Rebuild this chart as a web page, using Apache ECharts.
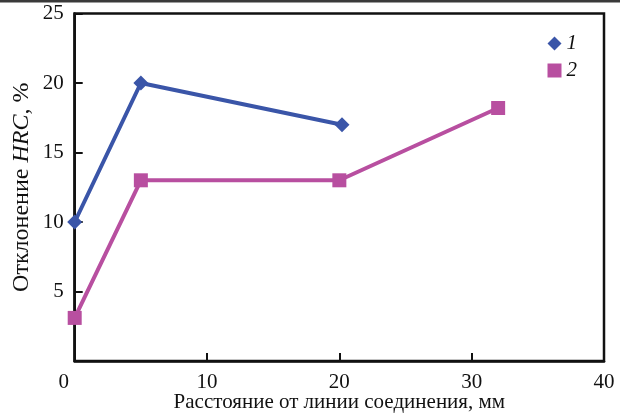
<!DOCTYPE html>
<html>
<head>
<meta charset="utf-8">
<script src="https://cdn.jsdelivr.net/npm/echarts@6/dist/echarts.min.js"></script>
<style>
  html, body { margin: 0; padding: 0; background: #fff; }
  #chart { width: 620px; height: 415px; }
</style>
</head>
<body>
<div id="chart"></div>
<script>
// Deviation of HRC hardness vs. distance from the joint line
const xTicks = [0, 10, 20, 30, 40];
const yTicks = [0, 5, 10, 15, 20, 25];

const series1X = [0, 5, 20.2];
const series1Y = [10, 20, 17];

const series2X = [0, 5, 20, 32];
const series2Y = [3.1, 13, 13, 18.2];

const seriesNames = ['1', '2'];

const FONT = '"Liberation Serif", "DejaVu Serif", serif';
const FS = 21;
const FS_YNAME = 24;
const AXIS_COLOR = '#111';

const pairs = (xs, ys) => xs.map((x, i) => [x, ys[i]]);

const chart = echarts.init(document.getElementById('chart'), null, { renderer: 'canvas' });

chart.setOption({
  animation: false,
  backgroundColor: '#fff',
  graphic: [{
    type: 'rect',
    left: 0, top: 0,
    shape: { width: 620, height: 2.5 },
    style: { fill: '#3a3a3a' },
    silent: true
  }],
  grid: {
    left: 74.7, right: 16, top: 13.5, bottom: 54,
    containLabel: false,
    outerBoundsMode: 'none',
    show: true,
    borderColor: AXIS_COLOR,
    borderWidth: 2.5,
    backgroundColor: 'transparent'
  },
  legend: {
    right: 38, top: 28,
    orient: 'vertical',
    itemGap: 6,
    itemWidth: 14, itemHeight: 14,
    textStyle: { fontFamily: FONT, fontSize: FS, fontStyle: 'italic', color: '#111' },
    data: [
      { name: seriesNames[0], icon: 'diamond' },
      { name: seriesNames[1], icon: 'rect' }
    ]
  },
  xAxis: {
    type: 'value',
    min: xTicks[0], max: xTicks[xTicks.length - 1], interval: 10,
    name: 'Расстояние от линии соединения, мм',
    nameLocation: 'middle',
    nameGap: 31,
    nameMoveOverlap: false,
    nameTextStyle: { fontFamily: FONT, fontSize: FS, color: '#111' },
    axisLine: { show: true, lineStyle: { color: AXIS_COLOR, width: 2.5 } },
    axisTick: { show: true, inside: true, length: 8, lineStyle: { color: AXIS_COLOR, width: 2 } },
    axisLabel: {
      margin: 11,
      fontFamily: FONT, fontSize: FS, color: '#111',
      formatter: v => v === 0 ? '{z|0}' : String(v),
      rich: { z: { fontFamily: FONT, fontSize: FS, color: '#111', padding: [0, 22, 0, 0] } }
    },
    splitLine: { show: false }
  },
  yAxis: {
    type: 'value',
    min: yTicks[0], max: yTicks[yTicks.length - 1], interval: 5,
    name: '{n|Отклонение }{i|HRC}{n|, %}',
    nameLocation: 'middle',
    nameGap: 41,
    nameMoveOverlap: false,
    nameRotate: 90,
    nameTextStyle: {
      rich: {
        n: { fontFamily: FONT, fontSize: FS_YNAME, color: '#111' },
        i: { fontFamily: FONT, fontSize: FS_YNAME, color: '#111', fontStyle: 'italic' }
      }
    },
    axisLine: { show: true, lineStyle: { color: AXIS_COLOR, width: 2.5 } },
    axisTick: { show: true, inside: true, length: 8, lineStyle: { color: AXIS_COLOR, width: 2 } },
    axisLabel: {
      margin: 11,
      fontFamily: FONT, fontSize: FS, color: '#111',
      formatter: v => v === 0 ? '' : String(v)
    },
    splitLine: { show: false }
  },
  series: [
    {
      name: seriesNames[0],
      type: 'line',
      data: pairs(series1X, series1Y),
      symbol: 'diamond',
      symbolSize: 15,
      lineStyle: { color: '#3a55a8', width: 4 },
      itemStyle: { color: '#3a55a8' },
      z: 3
    },
    {
      name: seriesNames[1],
      type: 'line',
      data: pairs(series2X, series2Y),
      symbol: 'rect',
      symbolSize: 14,
      lineStyle: { color: '#b84fa0', width: 4 },
      itemStyle: { color: '#b84fa0' },
      z: 2
    }
  ]
});
</script>
</body>
</html>
